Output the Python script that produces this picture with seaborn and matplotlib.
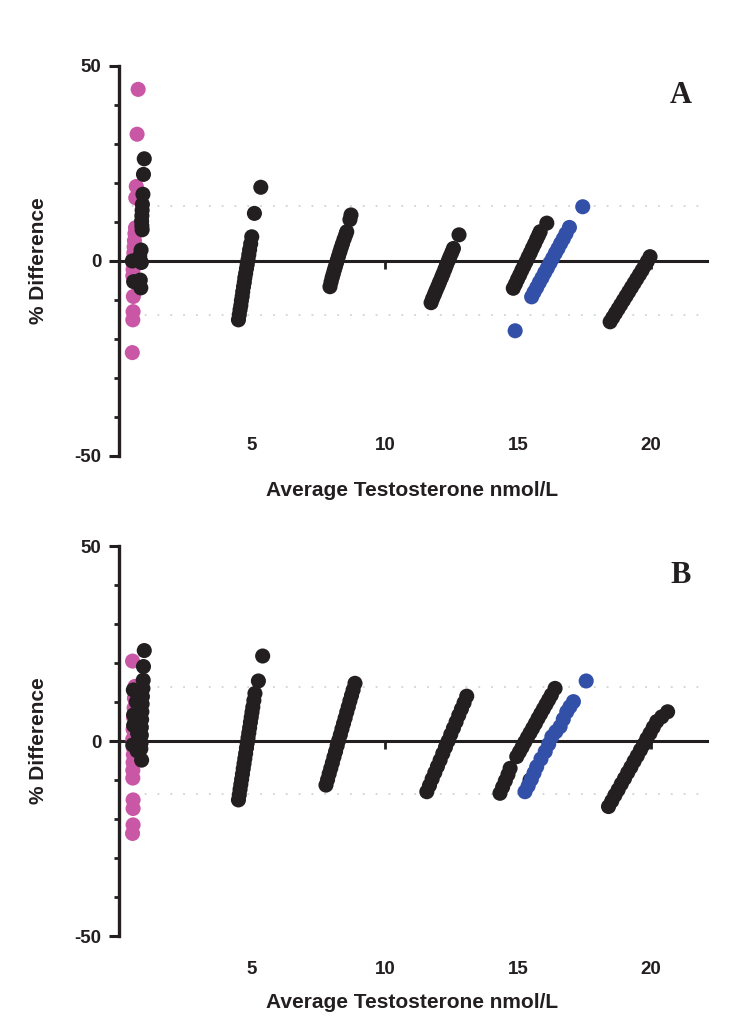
import matplotlib
matplotlib.use("Agg")
import matplotlib.pyplot as plt
import matplotlib.transforms as mtransforms
from matplotlib.ticker import MultipleLocator
import seaborn as sns
import pandas as pd

# ---- panel A ----
a_pink_x = [0.72, 0.68, 0.65, 0.63, 0.62, 0.60, 0.58, 0.57, 0.56, 0.55, 0.54, 0.53, 0.52, 0.54, 0.53, 0.52, 0.50]
a_pink_y = [44.0, 32.5, 19.1, 16.2, 8.5, 7.0, 5.2, 3.6, 2.1, 0.8, -0.6, -2.2, -3.8, -9.1, -13.0, -15.1, -23.5]

a_black_x = [0.95, 0.92, 0.90, 0.88, 0.87, 0.86, 0.85, 0.86, 0.87, 0.83, 0.78, 0.50, 0.84, 0.80, 0.55, 0.82,
             4.49, 4.52, 4.55, 4.58, 4.60, 4.63, 4.65, 4.68, 4.71, 4.73, 4.76, 4.79, 4.82, 4.85, 4.88, 4.91, 4.95, 4.99, 5.09, 5.33,
             7.93, 7.97, 8.01, 8.05, 8.09, 8.13, 8.17, 8.21, 8.25, 8.30, 8.35, 8.40, 8.46, 8.52, 8.56, 8.68, 8.72,
             11.73, 11.79, 11.86, 11.92, 11.99, 12.05, 12.12, 12.18, 12.25, 12.31, 12.38, 12.44, 12.51, 12.57, 12.78,
             14.82, 14.90, 14.98, 15.06, 15.14, 15.22, 15.30, 15.38, 15.46, 15.54, 15.62, 15.70, 15.77, 15.83, 16.08,
             18.46, 18.56, 18.66, 18.76, 18.86, 18.96, 19.06, 19.16, 19.26, 19.36, 19.46, 19.56, 19.66, 19.76, 19.86, 19.96]
a_black_y = [26.2, 22.2, 17.1, 14.5, 13.0, 11.6, 10.2, 9.0, 8.0, 2.8, 1.2, 0.0, -0.4, -4.9, -5.3, -6.9,
             -15.1, -13.8, -12.5, -11.4, -10.2, -9.1, -7.9, -6.6, -5.5, -4.3, -3.2, -2.0, -0.9, 0.3, 1.6, 2.9, 4.4, 6.2, 12.2, 18.9,
             -6.6, -5.4, -4.3, -3.4, -2.4, -1.5, -0.6, 0.3, 1.2, 2.3, 3.4, 4.4, 5.6, 6.7, 7.5, 10.6, 11.8,
             -10.7, -9.6, -8.5, -7.5, -6.4, -5.4, -4.3, -3.3, -2.1, -1.0, 0.1, 1.1, 2.2, 3.2, 6.7,
             -7.0, -5.9, -4.7, -3.6, -2.4, -1.3, -0.2, 1.0, 2.1, 3.3, 4.4, 5.6, 6.6, 7.5, 9.7,
             -15.6, -14.5, -13.4, -12.3, -11.2, -10.1, -9.0, -7.9, -6.8, -5.7, -4.6, -3.5, -2.4, -1.2, -0.1, 1.1]

a_blue_x = [14.89, 15.51, 15.60, 15.70, 15.80, 15.90, 16.00, 16.10, 16.20, 16.30, 16.40, 16.50, 16.60, 16.70, 16.80, 16.93, 17.43]
a_blue_y = [-17.9, -9.2, -8.0, -6.8, -5.5, -4.3, -3.0, -1.8, -0.5, 0.7, 2.0, 3.2, 4.5, 5.7, 7.0, 8.6, 13.9]

# ---- panel B ----
b_pink_x = [0.51, 0.60, 0.58, 0.57, 0.55, 0.53, 0.52, 0.53, 0.54, 0.53, 0.52, 0.52, 0.53, 0.53, 0.53, 0.51]
b_pink_y = [20.5, 14.0, 11.0, 8.5, 6.0, 3.0, 0.5, -1.5, -3.5, -5.5, -7.5, -9.5, -15.1, -17.3, -21.5, -23.7]

b_black_x = [0.95, 0.92, 0.91, 0.90, 0.54, 0.88, 0.87, 0.65, 0.55, 0.86, 0.85, 0.84, 0.55, 0.70, 0.84, 0.83, 0.52, 0.68, 0.82, 0.85,
             4.49, 4.52, 4.55, 4.58, 4.61, 4.64, 4.67, 4.70, 4.73, 4.76, 4.79, 4.82, 4.85, 4.88, 4.91, 4.94, 4.97, 5.00, 5.03, 5.07, 5.11, 5.24, 5.40,
             7.78, 7.84, 7.90, 7.96, 8.02, 8.08, 8.14, 8.20, 8.26, 8.32, 8.38, 8.44, 8.50, 8.56, 8.62, 8.68, 8.74, 8.80, 8.87,
             11.57, 11.67, 11.77, 11.87, 11.97, 12.07, 12.17, 12.27, 12.37, 12.47, 12.57, 12.67, 12.77, 12.87, 12.97, 13.07,
             14.32, 14.42, 14.52, 14.62, 14.70, 15.45,
             14.95, 15.05, 15.15, 15.25, 15.35, 15.45, 15.55, 15.65, 15.75, 15.85, 15.95, 16.05, 16.15, 16.25, 16.39,
             18.40, 18.52, 18.64, 18.76, 18.88, 19.00, 19.12, 19.24, 19.36, 19.48, 19.60, 19.72, 19.84, 19.96, 20.08, 20.21, 20.40, 20.62]
b_black_y = [23.2, 19.1, 15.6, 13.5, 13.1, 11.4, 9.5, 10.0, 6.7, 7.5, 5.5, 3.5, 4.0, 2.0, 1.5, -0.5, -1.0, -2.5, -2.0, -4.9,
             -15.1, -13.8, -12.4, -11.1, -9.8, -8.5, -7.1, -5.8, -4.5, -3.2, -1.8, -0.5, 0.8, 2.1, 3.4, 4.8, 6.1, 7.4, 8.7, 10.4, 12.2, 15.4, 21.8,
             -11.3, -9.9, -8.4, -7.0, -5.6, -4.1, -2.7, -1.2, 0.2, 1.6, 3.1, 4.5, 5.9, 7.4, 8.8, 10.3, 11.7, 13.1, 14.8,
             -13.0, -11.4, -9.7, -8.1, -6.5, -4.9, -3.2, -1.6, 0.0, 1.7, 3.3, 4.9, 6.6, 8.2, 9.8, 11.5,
             -13.4, -11.8, -10.2, -8.6, -7.0, -10.0,
             -4.0, -2.8, -1.6, -0.3, 0.9, 2.1, 3.3, 4.5, 5.8, 7.0, 8.2, 9.4, 10.6, 11.8, 13.5,
             -16.8, -15.4, -13.9, -12.5, -11.0, -9.6, -8.1, -6.7, -5.2, -3.8, -2.3, -0.9, 0.6, 2.0, 3.5, 5.0, 6.2, 7.5]

b_blue_x = [15.26, 15.38, 15.50, 15.60, 15.70, 15.86, 16.02, 16.15, 16.27, 16.42, 16.58, 16.70, 16.83, 16.95, 17.08, 17.56]
b_blue_y = [-13.0, -11.5, -9.8, -8.2, -6.6, -4.6, -2.7, -0.8, 1.1, 2.4, 3.7, 5.6, 7.5, 8.8, 10.1, 15.4]

# limits of agreement (dotted lines)
a_limits = [14.0, -13.9]
b_limits = [13.8, -13.6]

x_ticks = [5, 10, 15, 20]
y_major = [-50, 0, 50]
colors = {"pink": "#c957a5", "black": "#231f20", "blue": "#3350a8"}


def make_df(px, py, kx, ky, bx, by):
    parts = [
        pd.DataFrame({"avg": px, "diff": py, "group": "pink"}),
        pd.DataFrame({"avg": kx, "diff": ky, "group": "black"}),
        pd.DataFrame({"avg": bx, "diff": by, "group": "blue"}),
    ]
    return pd.concat(parts, ignore_index=True)


panels = [
    ("A", make_df(a_pink_x, a_pink_y, a_black_x, a_black_y, a_blue_x, a_blue_y), a_limits, 0.5556, 1 - 445 / 1026, 1 - 490 / 1026),
    ("B", make_df(b_pink_x, b_pink_y, b_black_x, b_black_y, b_blue_x, b_blue_y), b_limits, 0.0877, 1 - 970 / 1026, 1 - 1003 / 1026),
]

sns.set_style("ticks")
plt.rcParams["font.family"] = ["Liberation Sans", "DejaVu Sans"]
plt.rcParams["font.weight"] = "bold"
plt.rcParams["axes.unicode_minus"] = False

fig = plt.figure(figsize=(7.55, 10.26), dpi=100)

for letter, df, limits, bottom, tick_y, label_y in panels:
    ax = fig.add_axes([0.1576, bottom, 0.7788, 0.3801])

    for lim in limits:
        ax.axhline(lim, color="#cccccc", lw=1.1, ls=(0, (1.2, 7.2)), zorder=1)

    sns.scatterplot(
        data=df, x="avg", y="diff", hue="group", palette=colors,
        s=118, edgecolor="none", linewidth=0, alpha=1,
        legend=False, ax=ax, zorder=3,
    )

    ax.set_xlim(0, 22.1)
    ax.set_ylim(-50, 50)

    for side in ["top", "right"]:
        ax.spines[side].set_visible(False)
    ax.spines["bottom"].set_position(("data", 0))
    ax.spines["bottom"].set_linewidth(2.2)
    ax.spines["left"].set_linewidth(2.4)
    ax.spines["left"].set_color("#231f20")
    ax.spines["bottom"].set_color("#231f20")

    ax.set_yticks(y_major)
    ax.yaxis.set_minor_locator(MultipleLocator(10))
    ax.tick_params(axis="y", which="major", length=7.5, width=2.2, pad=5,
                   labelsize=13.5, colors="#231f20")
    ax.tick_params(axis="y", which="minor", length=3.5, width=2.0, color="#231f20")

    ax.set_xticks(x_ticks)
    ax.tick_params(axis="x", which="major", length=5.5, width=2.0, direction="out",
                   labelbottom=False, color="#231f20")
    ax.set_xlabel("")
    ax.set_ylabel("")

    trans = mtransforms.blended_transform_factory(ax.transData, fig.transFigure)
    for t in x_ticks:
        ax.text(t, tick_y, str(t), transform=trans, ha="center", va="center",
                fontsize=13.5, fontweight="bold", color="#231f20")

    ax.text(0.956, 0.925, letter, transform=ax.transAxes, ha="center", va="center",
            fontsize=22, fontweight="bold", family=["Liberation Serif", "DejaVu Serif"],
            color="#231f20")

    mid_y = bottom + 0.3801 / 2
    fig.text(38 / 755, mid_y, "% Difference", rotation=90, ha="center", va="center",
             fontsize=15, fontweight="bold", color="#231f20")
    fig.text(412 / 755, label_y, "Average Testosterone nmol/L", ha="center", va="center",
             fontsize=15, fontweight="bold", color="#231f20")

fig.savefig("out.png", dpi=100)
